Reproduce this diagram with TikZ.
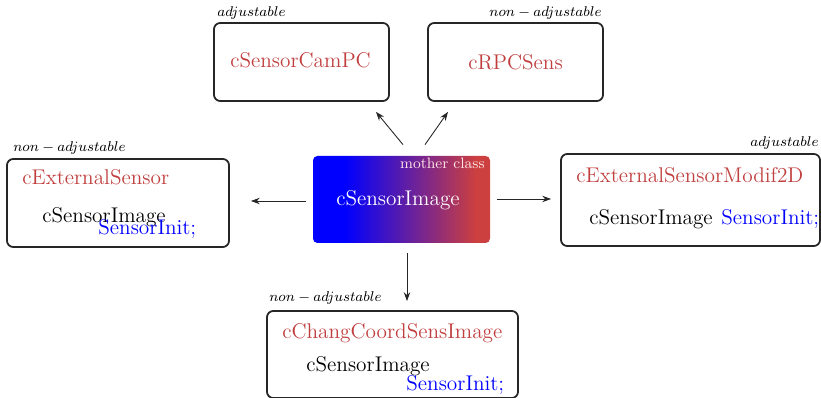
\documentclass[tikz,border=0pt]{standalone}
\usetikzlibrary{fit,calc,arrows.meta}
\definecolor{clsred}{RGB}{192,62,62}
\pgfdeclarehorizontalshading{mothershade}{100bp}{rgb(0bp)=(0,0,1); rgb(34bp)=(0,0,1); rgb(71bp)=(0.80,0.25,0.25); rgb(100bp)=(0.80,0.25,0.25)}
\begin{document}
\begin{tikzpicture}[x=0.564pt,y=-0.564pt,
  box/.style={draw=black!85, line width=1pt, rounded corners=3.5pt, inner sep=0pt},
  txt/.style={font=\fontsize{12}{14}\selectfont, inner sep=0pt},
  cls/.style={txt, text=clsred},
  fn/.style={txt, text=blue},
  lbl/.style={font=\fontsize{8.4}{10}\selectfont, inner sep=0pt},
  arr/.style={-{Stealth[length=5pt,width=3.6pt]}, line width=0.5pt, black!85}]
\useasboundingbox (0,0) rectangle (821,398);

% top-left
\node[box, fit={(214,23) (389,101)}] (camb) {};
\node[cls, anchor=base] (camt) at (300.5,68) {cSensorCamPC};
\node[lbl, anchor=base west] (caml) at (217,17) {$adjustable$};

% top-right
\node[box, fit={(428,23) (603,101)}] (rpcb) {};
\node[cls, anchor=base] (rpct) at (515.5,70) {cRPCSens};
\node[lbl, anchor=base east] (rpcl) at (602,17) {$non-adjustable$};

% left
\node[box, fit={(7,159) (229,247)}] (extb) {};
\node[cls, anchor=base west] (extt) at (22,185) {cExternalSensor};
\node[txt, anchor=base west] (extm) at (42,223) {cSensorImage};
\node[fn, anchor=base west] (extf) at (98,235) {SensorInit;};
\node[lbl, anchor=base west] (extl) at (13,152) {$non-adjustable$};

% center
\node[fit={(313,156) (490,243)}, inner sep=0pt, shade, shading=mothershade, rounded corners=2.5pt] (cen) {};
\node[txt, text=white, anchor=base] (cent) at (398,206) {cSensorImage};
\node[font=\fontsize{8.5}{10}\selectfont, text=white!90!red, anchor=base east, inner sep=0pt] (cenl) at (485,169) {mother class};

% right
\node[box, fit={(561,154) (820,246)}] (modb) {};
\node[cls, anchor=base west] (modt) at (576,183) {cExternalSensorModif2D};
\node[txt, anchor=base west] (modm) at (589,225) {cSensorImage};
\node[fn, anchor=base west] (modf) at (721,225) {SensorInit;};
\node[lbl, anchor=base east] (modl) at (819,147) {$adjustable$};

% bottom
\node[box, fit={(267,311) (518,398)}] (chgb) {};
\node[cls, anchor=base west] (chgt) at (282,338) {cChangCoordSensImage};
\node[txt, anchor=base west] (chgm) at (306,371) {cSensorImage};
\node[fn, anchor=base west] (chgf) at (406,390) {SensorInit;};
\node[lbl, anchor=base west] (chgl) at (269,302) {$non-adjustable$};

% arrows
\draw[arr] ($(cen.north)+(1.5,-11)$) -- ($(camb.south)+(74.5,10)$);
\draw[arr] ($(cen.north)+(23.5,-11)$) -- ($(rpcb.south)+(-67.5,10)$);
\draw[arr] ($(cen.west)+(-7,1.5)$) -- ($(extb.east)+(21,-2)$);
\draw[arr] ($(cen.east)+(7,-0.5)$) -- ($(modb.west)+(-9,-1)$);
\draw[arr] ($(cen.south)+(5.5,10)$) -- ($(chgb.north)+(14.5,-9)$);
\end{tikzpicture}
\end{document}
